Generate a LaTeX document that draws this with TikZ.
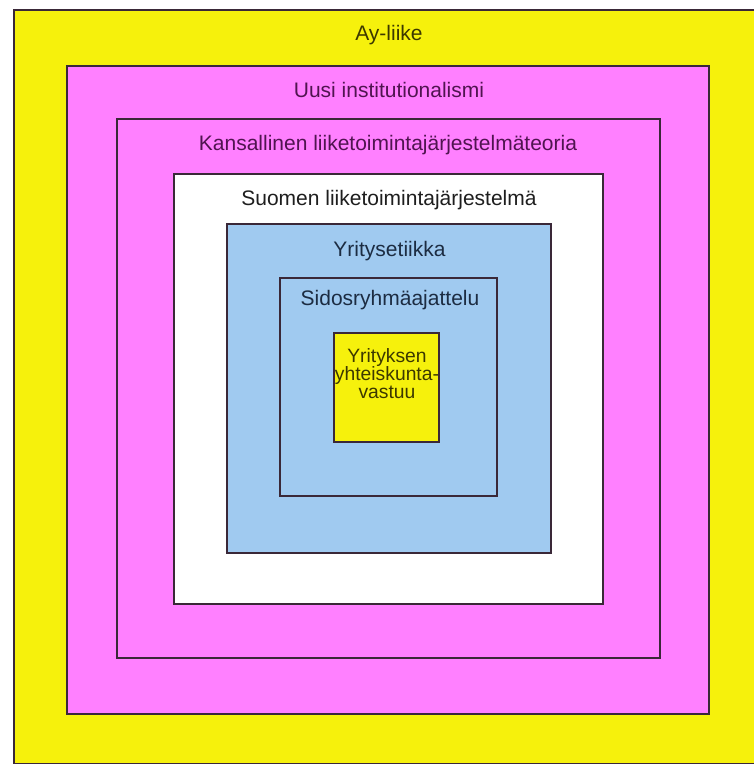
\documentclass[tikz,border=0pt]{standalone}
\usepackage{fontspec}
\setmainfont{Liberation Sans}
\definecolor{ylw}{RGB}{246,241,12}
\definecolor{pnk}{RGB}{255,128,255}
\definecolor{blu}{RGB}{160,202,240}
\definecolor{edge}{RGB}{58,40,56}
\definecolor{tpink}{RGB}{80,20,80}
\definecolor{tylw}{RGB}{60,56,0}
\definecolor{tblu}{RGB}{28,44,66}
\definecolor{twht}{RGB}{30,30,30}
\tikzset{
  box/.style={draw=edge, line width=1.2pt, rectangle, inner sep=0pt, outer sep=0pt, anchor=north west},
  lbl/.style={font=\fontsize{21}{25}\selectfont, anchor=base, inner sep=0pt}
}
\begin{document}
\begin{tikzpicture}[x=1pt,y=-1pt]
\clip (0,0) rectangle (754,765);
\fill[white] (0,0) rectangle (754,765);
\node[box, fill=ylw, minimum width=746pt, minimum height=753.5pt] (b0) at (14,10) {};
\node[box, fill=pnk, minimum width=642pt, minimum height=648pt] (b1) at (67,66) {};
\node[box, fill=pnk, minimum width=543pt, minimum height=539pt] (b2) at (117,119) {};
\node[box, fill=white, minimum width=429pt, minimum height=430pt] (b3) at (174,174) {};
\node[box, fill=blu, minimum width=324pt, minimum height=329pt] (b4) at (227,224) {};
\node[box, fill=blu, minimum width=217pt, minimum height=218pt] (b5) at (280,278) {};
\node[box, fill=ylw, minimum width=105pt, minimum height=109pt] (b6) at (334,333) {};
\node[lbl, text=tylw] (t0) at (389,41) {Ay-liike};
\node[lbl, text=tpink] (t1) at (389,98) {Uusi institutionalismi};
\node[lbl, text=tpink] (t2) at (388,150) {Kansallinen liiketoimintajärjestelmäteoria};
\node[lbl, text=twht] (t3) at (389,205) {Suomen liiketoimintajärjestelmä};
\node[lbl, text=tblu] (t4) at (389.5,256) {Yritysetiikka};
\node[lbl, text=tblu] (t5) at (390,305) {Sidosryhmäajattelu};
\node[font=\fontsize{19.3}{18}\selectfont, text=tylw, align=center, anchor=north, inner sep=0pt] (t6) at (387,348.5) {Yrityksen\\yhteiskunta-\\vastuu};
\end{tikzpicture}
\end{document}
